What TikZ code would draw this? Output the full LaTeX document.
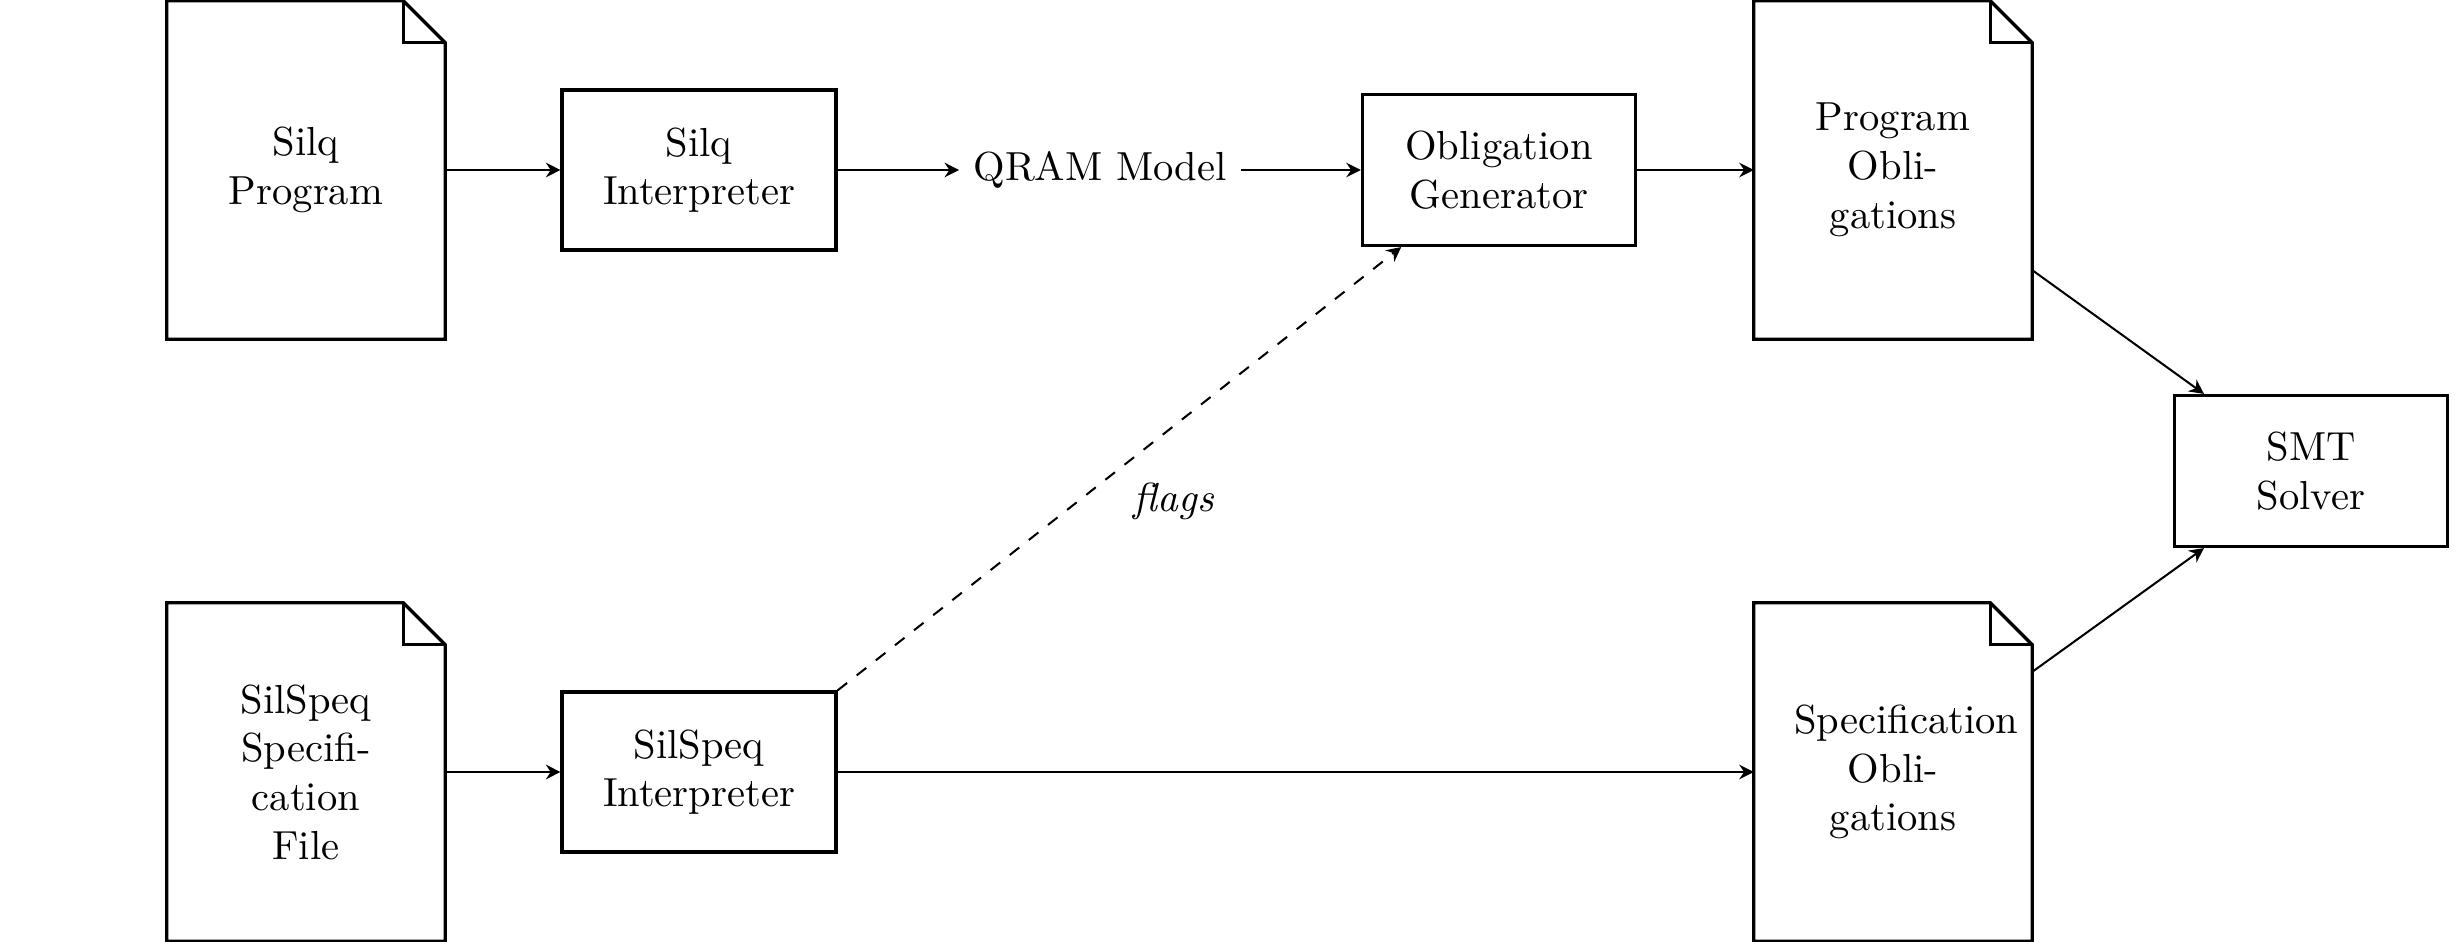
\documentclass[tikz,border=0pt]{standalone}
\usetikzlibrary{arrows.meta}
\tikzset{
  box/.style={draw, thick, align=center, minimum width=67.5pt, minimum height=39.4pt},
  boxb/.style={draw, thick, align=center, minimum width=67.3pt, minimum height=37.2pt},
  doc/.style={align=center, text width=48.8pt, minimum width=68.2pt, minimum height=83pt, inner sep=0pt},
  conn/.style={-{Stealth[length=3.6pt, width=3.6pt, inset=1.2pt]}, line width=0.5pt},
}
\newcommand\docoutline[1]{%
  \draw[thick] (#1.north west) -- ([xshift=-10.3pt]#1.north east) -- ([yshift=-10.3pt]#1.north east) -- (#1.south east) -- (#1.south west) -- cycle;
  \draw[thick] ([xshift=-10.3pt]#1.north east) |- ([yshift=-10.3pt]#1.north east);
}
\begin{document}
\begin{tikzpicture}[x=0.2465pt,y=-0.2465pt]
\useasboundingbox (0,0) rectangle (2463,942);
% top row
\node[doc] (sp) at (306,170) {Silq\\Program};
\node[box] (si) at (699,170) {Silq\\Interpreter};
\node (qram) at (1100,170) {QRAM Model};
\node[boxb] (og) at (1499,170) {Obligation\\Generator};
\node[doc] (po) at (1893,170) {Program\\Obli-\\gations};
% right
\node[boxb] (smt) at (2311,471) {SMT\\Solver};
% bottom row
\node[doc] (ssf) at (306,772) {SilSpeq\\Specifi-\\cation\\File};
\node[box] (ssi) at (699,772) {SilSpeq\\Interpreter};
\node[doc] (so) at (1893,772) {Specification\\Obli-\\gations};
\docoutline{sp}
\docoutline{po}
\docoutline{ssf}
\docoutline{so}
% connectors
\draw[conn] (sp) -- (si);
\draw[conn] (si) -- (qram);
\draw[conn] (qram) -- (og);
\draw[conn] (og) -- (po);
\draw[conn] (po) -- (smt);
\draw[conn] (ssf) -- (ssi);
\draw[conn] (ssi) -- (so);
\draw[conn] (so) -- (smt);
\draw[conn, dashed] (ssi.north east) -- (og) node[midway, below right] {\textit{flags}};
\end{tikzpicture}
\end{document}
